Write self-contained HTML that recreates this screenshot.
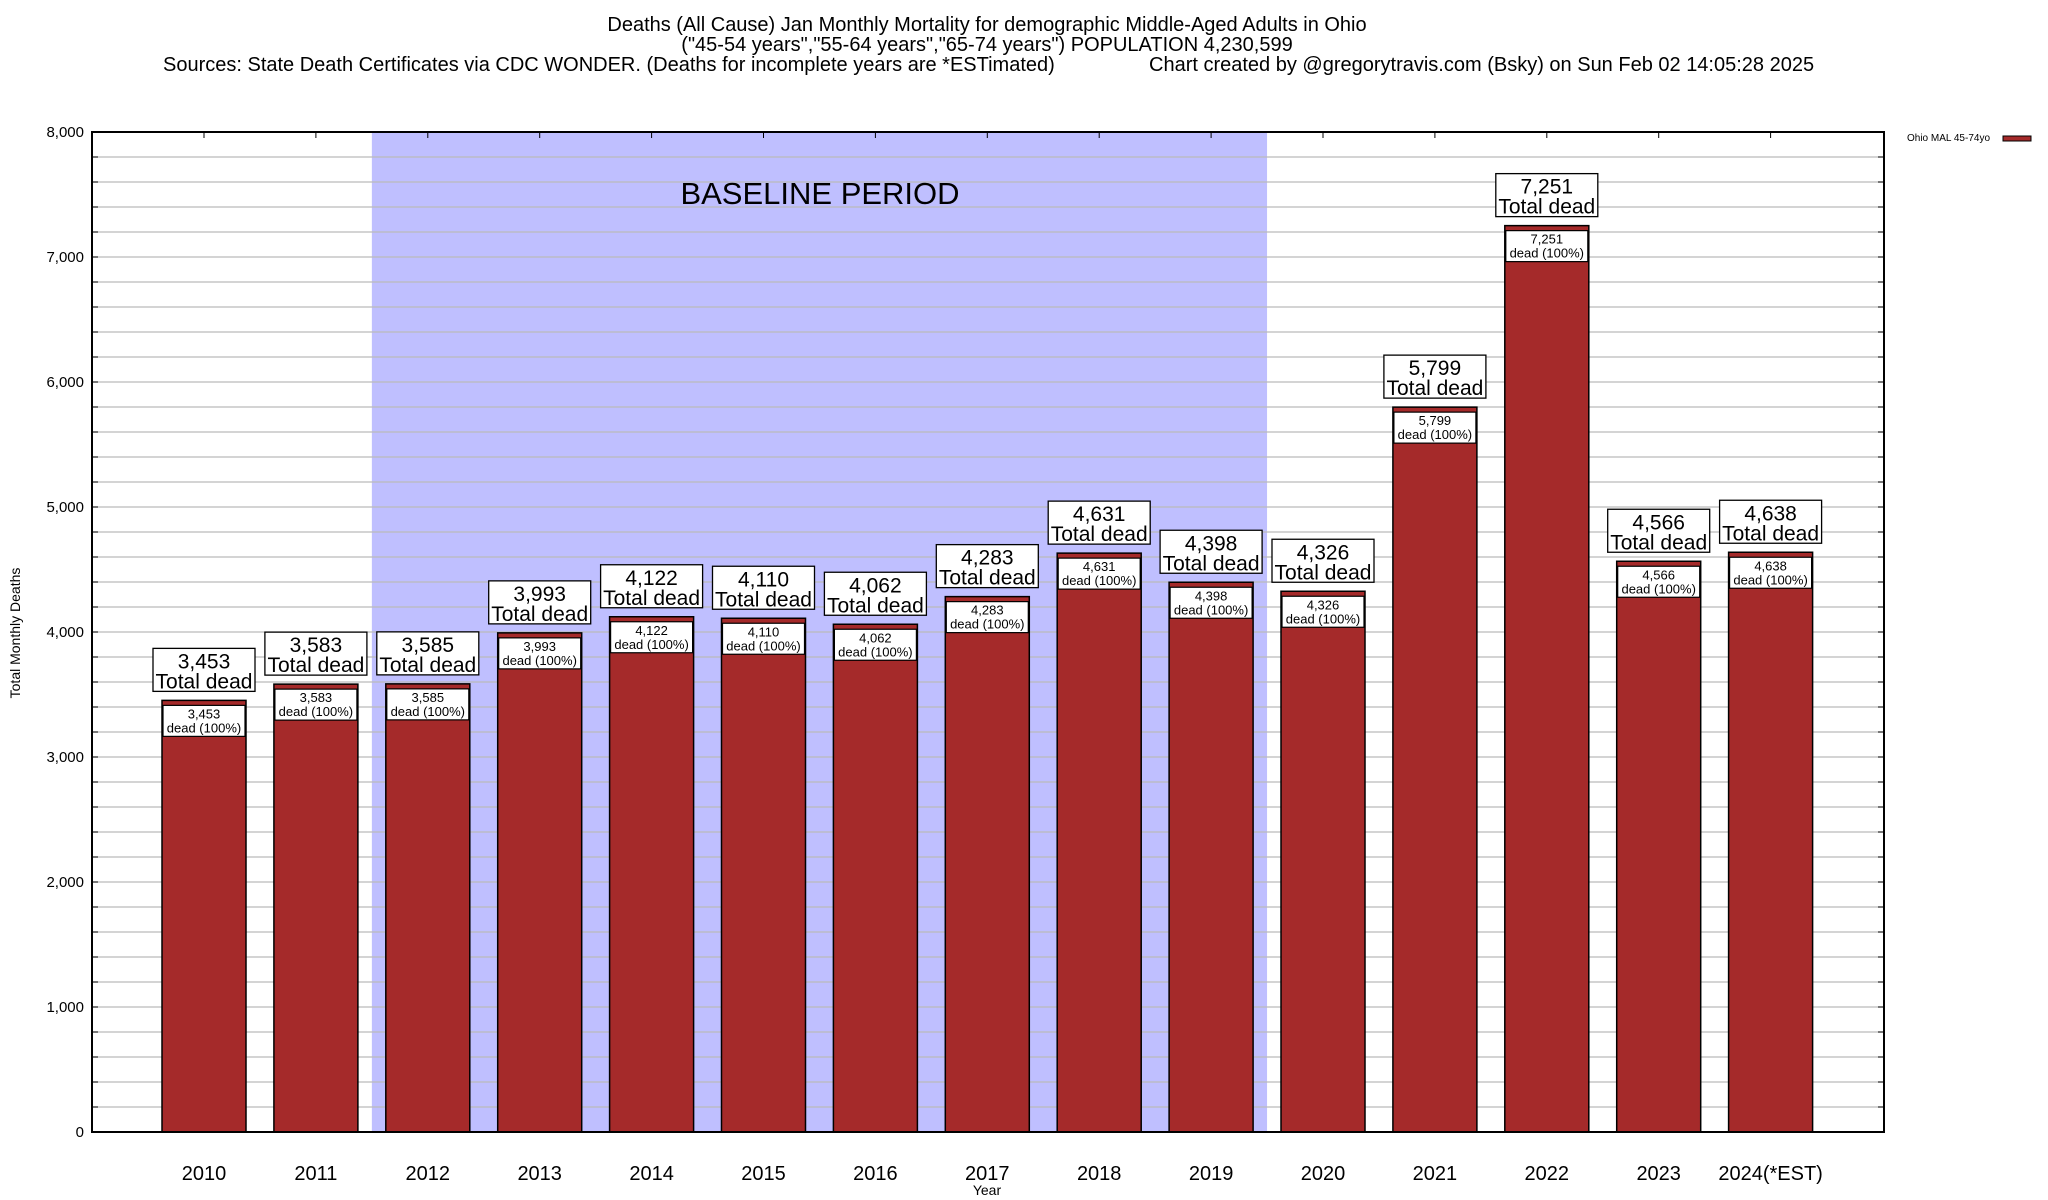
<!DOCTYPE html>
<html><head><meta charset="utf-8">
<style>
html,body{margin:0;padding:0;background:#fff;}
svg{display:block;font-family:"Liberation Sans",sans-serif;}
</style></head>
<body>
<svg id="chart" width="2048" height="1200" viewBox="0 0 2048 1200">
<text x="987" y="31" font-size="20" text-anchor="middle">Deaths (All Cause) Jan Monthly Mortality for demographic Middle-Aged Adults in Ohio</text>
<text x="987" y="51" font-size="20" text-anchor="middle">("45-54 years","55-64 years","65-74 years") POPULATION 4,230,599</text>
<text x="163" y="71" font-size="20">Sources: State Death Certificates via CDC WONDER. (Deaths for incomplete years are *ESTimated)</text>
<text x="1149" y="71" font-size="20">Chart created by @gregorytravis.com (Bsky) on Sun Feb 02 14:05:28 2025</text>
<g id="plot"></g>
<text x="987" y="1195" font-size="14" text-anchor="middle">Year</text>
<text transform="translate(20,633) rotate(-90)" font-size="14" text-anchor="middle">Total Monthly Deaths</text>
<text x="1907" y="141" font-size="10">Ohio MAL 45-74yo</text>
<rect x="2003" y="136" width="28" height="5" fill="#A52A2A" stroke="#000" stroke-width="1"/>
</svg>
<script>
const categories = ["2010","2011","2012","2013","2014","2015","2016","2017","2018","2019","2020","2021","2022","2023","2024(*EST)"];
const deaths = [3453,3583,3585,3993,4122,4110,4062,4283,4631,4398,4326,5799,7251,4566,4638];
const yTicks = [0,1000,2000,3000,4000,5000,6000,7000,8000];
const baselineStart = 2, baselineEnd = 9;

const NS = "http://www.w3.org/2000/svg";
const L = 92, R = 1884, T = 132, B = 1132;
const x0 = 204, step = 111.9, bw = 84;
const yMax = 8000;
function xs(i){ return x0 + i*step; }
function ys(v){ return B - v/yMax*(B-T); }
const g = document.getElementById('plot');
function el(tag, attrs, parent){ const e=document.createElementNS(NS,tag); for(const k in attrs) e.setAttribute(k,attrs[k]); (parent||g).appendChild(e); return e; }
function fmt(v){ return v.toLocaleString('en-US'); }

let sh = el('rect',{x:xs(baselineStart-0.5),y:T,width:xs(baselineEnd+0.5)-xs(baselineStart-0.5),height:B-T,fill:'#BFBFFF'});


for(let v=200; v<yMax; v+=200){
  let ln = el('line',{x1:L,x2:R,y1:ys(v),y2:ys(v),stroke:'#bbb','stroke-width':1.2});
  
  
  el('line',{x1:L,x2:L+6,y1:ys(v),y2:ys(v),stroke:'#000','stroke-width':1});
  el('line',{x1:R-6,x2:R,y1:ys(v),y2:ys(v),stroke:'#000','stroke-width':1});
}
let bl = el('text',{x:820,y:204,'font-size':31,'text-anchor':'middle'});
bl.textContent='BASELINE PERIOD';



yTicks.forEach(v=>{
  let t = el('text',{x:84,y:ys(v)+5,'font-size':15,'text-anchor':'end'});
  t.textContent = fmt(v);
  
  
});

categories.forEach((c,i)=>{
  const v = deaths[i], cx = xs(i), top = ys(v);
  el('line',{x1:cx,x2:cx,y1:T,y2:T+6,stroke:'#000','stroke-width':1});
  el('line',{x1:cx,x2:cx,y1:B-6,y2:B,stroke:'#000','stroke-width':1});
  let bar = el('rect',{x:cx-bw/2,y:top,width:bw,height:B-top,fill:'#A52A2A',stroke:'#000','stroke-width':1.5});
  
  
  let ib = el('rect',{x:cx-41,y:top+5,width:82,height:31,fill:'#fff',stroke:'#000','stroke-width':1.2});
  
  
  let t1 = el('text',{x:cx,y:top+18,'font-size':13,'text-anchor':'middle'}); t1.textContent=fmt(v);
  
  
  let t2 = el('text',{x:cx,y:top+32,'font-size':13,'text-anchor':'middle'}); t2.textContent='dead (100%)';
  
  
  let ob = el('rect',{x:cx-51,y:top-52,width:102,height:43,fill:'#fff',stroke:'#000','stroke-width':1.3});
  
  
  let t3 = el('text',{x:cx,y:top-32,'font-size':21,'text-anchor':'middle'}); t3.textContent=fmt(v);
  
  
  let t4 = el('text',{x:cx,y:top-12,'font-size':21,'text-anchor':'middle'}); t4.textContent='Total dead';
  
  
  let xl = el('text',{x:cx,y:1180,'font-size':20,'text-anchor':'middle'}); xl.textContent=c;
  
  
});
let fr = el('rect',{x:L,y:T,width:R-L,height:B-T,fill:'none',stroke:'#000','stroke-width':2});


</script>
</body></html>
